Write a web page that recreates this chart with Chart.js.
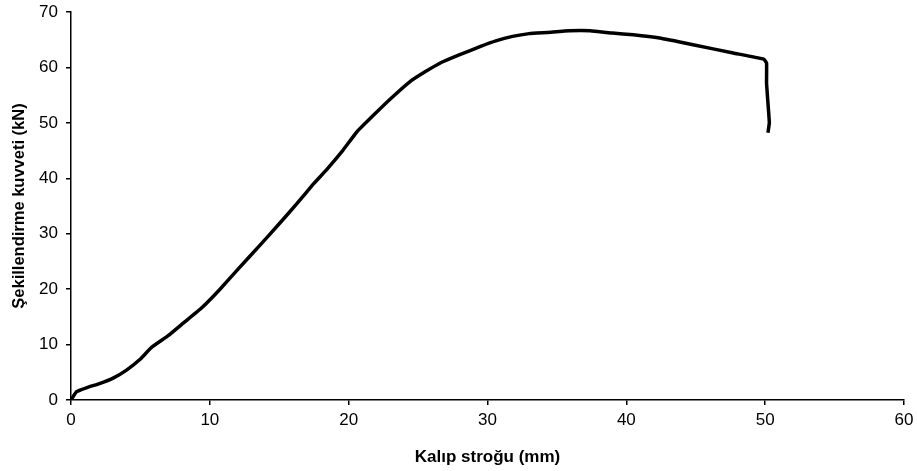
<!DOCTYPE html>
<html>
<head>
<meta charset="utf-8">
<script src="https://cdn.jsdelivr.net/npm/chart.js@4"></script>
<style>
  html, body { margin: 0; padding: 0; background: #fff; }
  #wrap { width: 917px; height: 471px; }
</style>
</head>
<body>
<div id="wrap"><canvas id="graph" width="917" height="471"></canvas></div>
<script>
// stroke (mm) and forming force (kN)
const strokeMm = [0, 0.4, 1.1, 2.1, 3.0, 4.0, 5.0, 5.8, 7.0, 8.1, 9.4, 10.7, 12.1, 13.6, 15.0, 16.3,
  17.4, 18.4, 19.6, 20.6, 21.8, 23.0, 24.4, 25.5, 26.6, 28.0, 29.5, 30.6, 31.8, 33.0, 34.3, 35.9,
  37.4, 39.0, 40.5, 42.4, 44.8, 47.7, 49.9, 50.1, 50.1, 50.2, 50.3, 50.2];
const forceKN = [0, 1.5, 2.2, 3.0, 3.9, 5.4, 7.4, 9.5, 11.6, 13.9, 16.6, 19.9, 23.8, 27.9, 31.8, 35.5,
  38.8, 41.5, 45.1, 48.4, 51.4, 54.3, 57.4, 59.2, 60.8, 62.3, 63.8, 64.8, 65.6, 66.1, 66.3, 66.6,
  66.6, 66.2, 65.9, 65.3, 64.1, 62.6, 61.5, 60.8, 57.2, 53.6, 50.0, 48.2];

const xTitle = "Kalıp stroğu (mm)";
const yTitle = "Şekillendirme kuvveti (kN)";

const points = strokeMm.map((x, i) => ({ x: x, y: forceKN[i] }));

Chart.defaults.font.family = "'Liberation Sans', Arial, sans-serif";
Chart.defaults.color = "#000";

const ctx = document.getElementById("graph").getContext("2d");

new Chart(ctx, {
  type: "scatter",
  data: {
    datasets: [{
      data: points,
      showLine: true,
      borderColor: "#000",
      backgroundColor: "#000",
      borderWidth: 3.5,
      pointRadius: 0,
      tension: 0.1
    }]
  },
  options: {
    responsive: false,
    animation: false,
    layout: { padding: { top: 12, right: 13, left: 0, bottom: 0 } },
    plugins: { legend: { display: false }, tooltip: { enabled: false } },
    scales: {
      x: {
        type: "linear",
        min: 0,
        max: 60,
        ticks: { stepSize: 10, font: { size: 17 }, padding: 5 },
        grid: { drawOnChartArea: false, drawTicks: true, tickLength: 5, color: "#000", lineWidth: 1.5 },
        border: { color: "#000", width: 1.5 },
        title: { display: true, text: xTitle, font: { size: 17, weight: "bold" }, padding: { top: 3, bottom: 3 } },
        afterFit: s => { s.height = 71; s.paddingLeft = 0; s.paddingRight = 0; }
      },
      y: {
        min: 0,
        max: 70,
        ticks: { stepSize: 10, font: { size: 17 }, padding: 8 },
        grid: { drawOnChartArea: false, drawTicks: true, tickLength: 5, color: "#000", lineWidth: 1.5 },
        border: { color: "#000", width: 1.5 },
        title: { display: true, text: yTitle, font: { size: 16.5, weight: "bold" }, padding: { top: 10, bottom: 10 } },
        afterFit: s => { s.width = 71; s.paddingTop = 0; s.paddingBottom = 0; }
      }
    }
  }
});
</script>
</body>
</html>
